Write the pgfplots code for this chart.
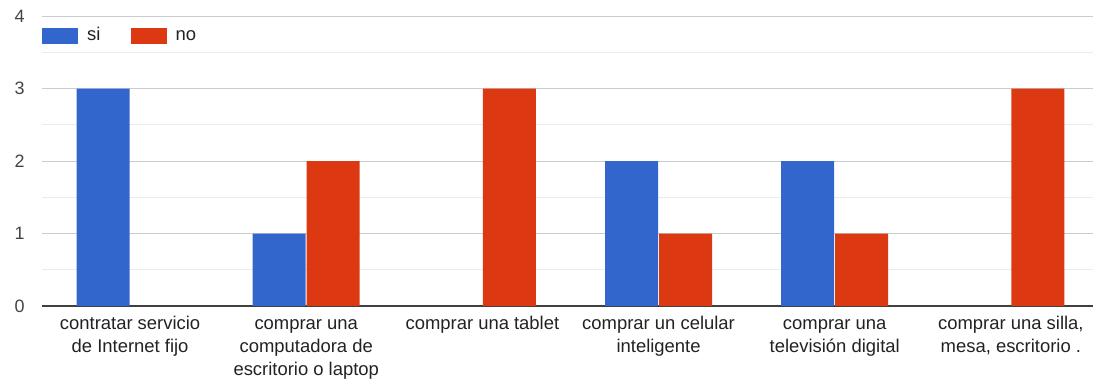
\documentclass[border=0pt]{standalone}
\usepackage{pgfplots}
\pgfplotsset{compat=1.18}
\usepackage{fontspec}
\setmainfont{Liberation Sans}
\definecolor{cblue}{HTML}{3366CC}
\definecolor{cred}{HTML}{DC3912}
\definecolor{ticktxt}{HTML}{444444}
\definecolor{cattxt}{HTML}{222222}
\begin{document}
\begin{tikzpicture}
\begin{axis}[
  at={(42bp,77bp)}, anchor=south west,
  scale only axis, width=1057bp, height=290bp,
  ybar, bar width=53bp,
  xmin=-0.5, xmax=5.5, ymin=0, ymax=4,
  xtick={0,1,2,3,4,5},
  xticklabels={{\strut contratar servicio\\de Internet fijo},{\strut comprar una\\computadora de\\escritorio o laptop},{\strut comprar una tablet},{\strut comprar un celular\\inteligente},{\strut comprar una\\televisión digital},{\strut comprar una silla,\\mesa, escritorio .}},
  x tick label style={align=center, font=\fontsize{18.5}{23}\selectfont, text=cattxt, inner sep=0pt, anchor=north, yshift=-7bp},
  ytick={0,1,2,3,4},
  minor ytick={0.5,1.5,2.5,3.5},
  y tick label style={font=\fontsize{18}{22}\selectfont, text=ticktxt, xshift=-14bp},
  /pgf/number format/assume math mode=true,
  major tick length=0pt, minor tick length=0pt,
  ymajorgrids, yminorgrids,
  major grid style={draw=black!20, line width=1bp},
  minor grid style={draw=black!8, line width=1bp},
  axis x line*=bottom, axis y line*=left,
  x axis line style={draw=black!75, line width=1.2bp, -},
  y axis line style={draw=none},
  legend style={at={(0,1)}, anchor=north west, xshift=0bp, yshift=-12bp, draw=none, fill=white, inner sep=0pt,
    font=\fontsize{18.5}{22}\selectfont, text=cattxt,
    nodes={inner xsep=0pt, inner ysep=0pt, text height=8bp, text depth=0bp},
    /tikz/every odd column/.append style={column sep=9bp},
    /tikz/every even column/.append style={column sep=30bp}},
  legend columns=2,
  legend image code/.code={\fill[#1] (0bp,-8bp) rectangle (36bp,8bp);},
]
\addplot[fill=cblue, draw=none, bar shift=-27bp] coordinates {(0,3) (1,1) (2,0) (3,2) (4,2) (5,0)};
\addplot[fill=cred, draw=none, bar shift=27bp] coordinates {(0,0) (1,2) (2,3) (3,1) (4,1) (5,3)};
\legend{si,no}
\end{axis}
\pgfresetboundingbox
\path (0,0) rectangle (1093bp,383bp);
\end{tikzpicture}
\end{document}
